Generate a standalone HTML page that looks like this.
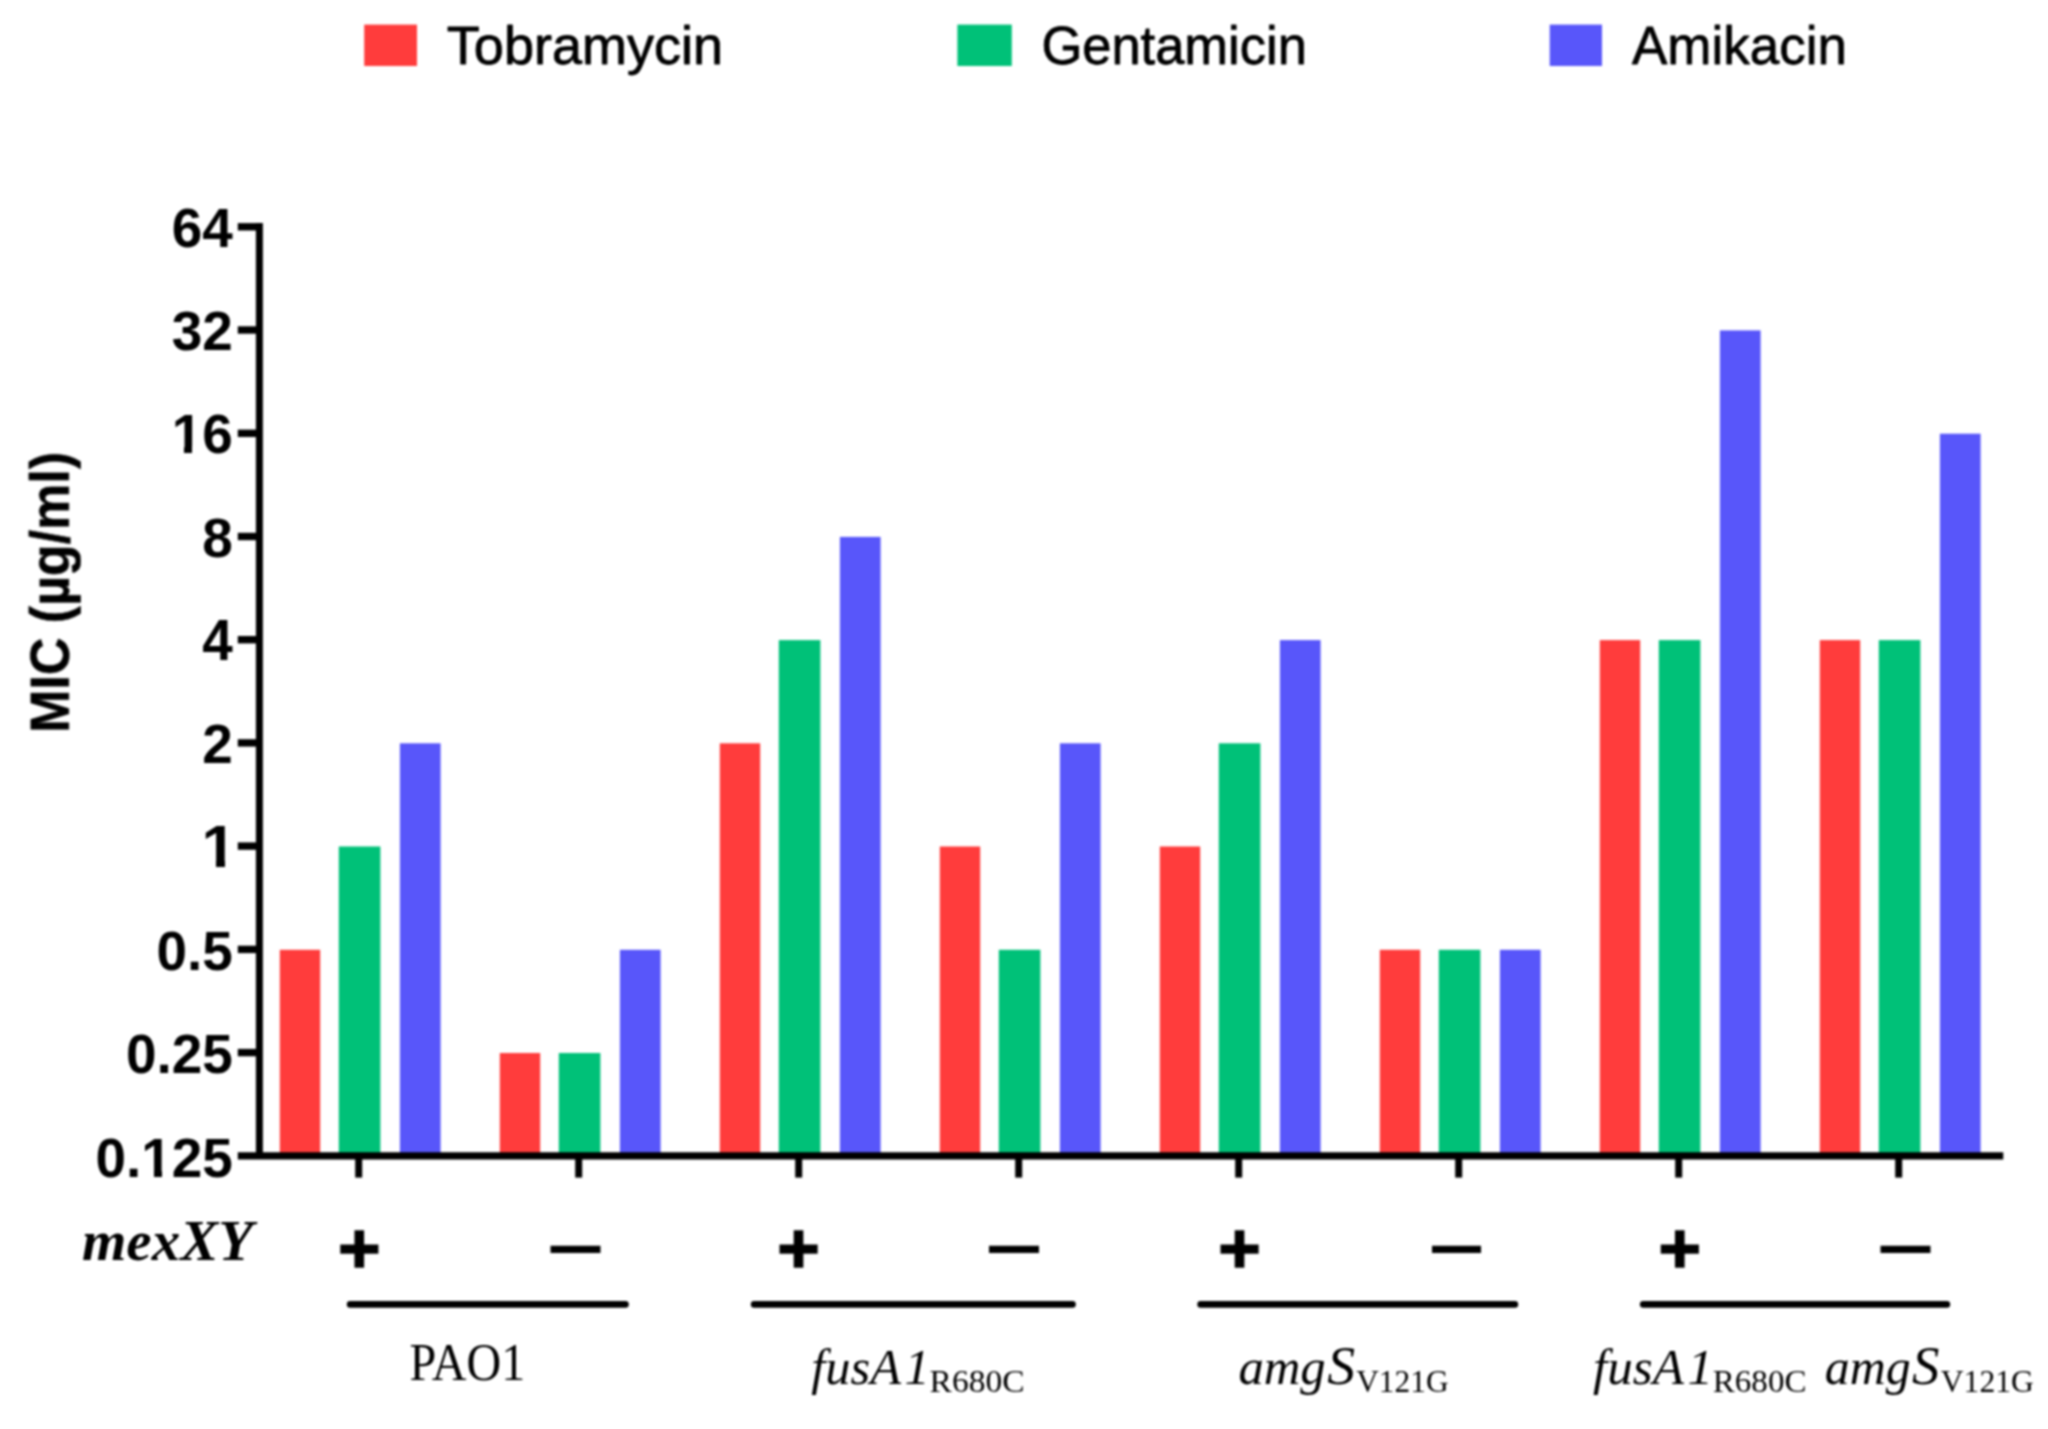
<!DOCTYPE html>
<html lang="en">
<head>
<meta charset="utf-8">
<title>MIC of aminoglycosides</title>
<style>
html,body{margin:0;padding:0;background:#fff;}
body{width:2048px;height:1429px;overflow:hidden;}
svg{display:block;}
.sb{font-family:"Liberation Sans", Arial, sans-serif;font-weight:700;}
.hv{stroke:#000;stroke-width:0.5px;stroke-linejoin:round;}
.pl{stroke:#000;stroke-width:1.6px;stroke-linejoin:miter;}
.sr{font-family:"Liberation Sans", Arial, sans-serif;font-weight:400;stroke:#000;stroke-width:0.8px;stroke-linejoin:round;}
.tr{font-family:"Liberation Serif", "Times New Roman", serif;font-weight:400;}
.ti{font-family:"Liberation Serif", "Times New Roman", serif;font-style:italic;}
.tbi{font-family:"Liberation Serif", "Times New Roman", serif;font-style:italic;font-weight:700;}
text{fill:#000;}
</style>
</head>
<body>
<svg width="2048" height="1429" viewBox="0 0 2048 1429">
<defs><filter id="soft" x="0" y="0" width="2048" height="1429" filterUnits="userSpaceOnUse" color-interpolation-filters="sRGB"><feGaussianBlur stdDeviation="0.8"/></filter></defs>
<rect width="2048" height="1429" fill="#fff"/>
<g id="chart" filter="url(#soft)">
<g id="legend">
<rect x="364.2" y="24.6" width="52.8" height="41.4" fill="#ff3c3c"/>
<rect x="957.4" y="24.6" width="54.4" height="41.4" fill="#00c178"/>
<rect x="1549.7" y="24.6" width="52.3" height="41.4" fill="#5856fa"/>
</g>
<g id="bars">
<rect x="279.8" y="949.8" width="40.4" height="206.0" fill="#ff3c3c"/>
<rect x="338.8" y="846.5" width="41.6" height="309.3" fill="#00c178"/>
<rect x="399.9" y="743.3" width="40.7" height="412.5" fill="#5856fa"/>
<rect x="499.8" y="1053.0" width="40.4" height="102.8" fill="#ff3c3c"/>
<rect x="558.8" y="1053.0" width="41.6" height="102.8" fill="#00c178"/>
<rect x="619.9" y="949.8" width="40.7" height="206.0" fill="#5856fa"/>
<rect x="719.8" y="743.3" width="40.4" height="412.5" fill="#ff3c3c"/>
<rect x="778.8" y="640.1" width="41.6" height="515.7" fill="#00c178"/>
<rect x="839.9" y="536.9" width="40.7" height="618.9" fill="#5856fa"/>
<rect x="939.8" y="846.5" width="40.4" height="309.3" fill="#ff3c3c"/>
<rect x="998.8" y="949.8" width="41.6" height="206.0" fill="#00c178"/>
<rect x="1059.9" y="743.3" width="40.7" height="412.5" fill="#5856fa"/>
<rect x="1159.8" y="846.5" width="40.4" height="309.3" fill="#ff3c3c"/>
<rect x="1218.8" y="743.3" width="41.6" height="412.5" fill="#00c178"/>
<rect x="1279.9" y="640.1" width="40.7" height="515.7" fill="#5856fa"/>
<rect x="1379.8" y="949.8" width="40.4" height="206.0" fill="#ff3c3c"/>
<rect x="1438.8" y="949.8" width="41.6" height="206.0" fill="#00c178"/>
<rect x="1499.9" y="949.8" width="40.7" height="206.0" fill="#5856fa"/>
<rect x="1599.8" y="640.1" width="40.4" height="515.7" fill="#ff3c3c"/>
<rect x="1658.8" y="640.1" width="41.6" height="515.7" fill="#00c178"/>
<rect x="1719.9" y="330.4" width="40.7" height="825.4" fill="#5856fa"/>
<rect x="1819.8" y="640.1" width="40.4" height="515.7" fill="#ff3c3c"/>
<rect x="1878.8" y="640.1" width="41.6" height="515.7" fill="#00c178"/>
<rect x="1939.9" y="433.7" width="40.7" height="722.1" fill="#5856fa"/>
</g>
<g id="axes" stroke="#000" stroke-width="7" fill="none">
<path d="M259.4 223.1V1155.8"/>
<path d="M237.8 1155.8H2003.3" stroke-width="7.2"/>
<path d="M237.8 1052.6H259.4" stroke-width="7.4"/>
<path d="M237.8 949.4H259.4" stroke-width="7.4"/>
<path d="M237.8 846.1H259.4" stroke-width="7.4"/>
<path d="M237.8 742.9H259.4" stroke-width="7.4"/>
<path d="M237.8 639.7H259.4" stroke-width="7.4"/>
<path d="M237.8 536.5H259.4" stroke-width="7.4"/>
<path d="M237.8 433.3H259.4" stroke-width="7.4"/>
<path d="M237.8 330.0H259.4" stroke-width="7.4"/>
<path d="M237.8 226.8H259.4" stroke-width="7.4"/>
<path d="M358.7 1155.8V1177.6"/>
<path d="M578.7 1155.8V1177.6"/>
<path d="M798.7 1155.8V1177.6"/>
<path d="M1018.7 1155.8V1177.6"/>
<path d="M1238.7 1155.8V1177.6"/>
<path d="M1458.7 1155.8V1177.6"/>
<path d="M1678.7 1155.8V1177.6"/>
<path d="M1898.7 1155.8V1177.6"/>
</g>
<g id="groups" stroke="#000" stroke-width="6.6" stroke-linecap="round">
<path d="M350.1 1304.4H625.5"/>
<path d="M754.1 1304.4H1072.5"/>
<path d="M1200.6 1304.4H1514.9"/>
<path d="M1643.2 1304.4H1946.9"/>
</g>
<g id="labels">
<text class="sr" font-size="54.50" transform="translate(446.80 64.00) scale(0.9918 1.0000)">Tobramycin</text>
<text class="sr" font-size="54.50" transform="translate(1041.40 64.00) scale(0.9630 1.0000)">Gentamicin</text>
<text class="sr" font-size="54.50" transform="translate(1632.00 64.00) scale(0.9720 1.0000)">Amikacin</text>
<clipPath id="cp-yt0"><path clip-rule="evenodd" d="M0 0H2048V1429H0Z M142.0 1170.2H154.0V1178.5H142.0Z M162.0 1170.2H173.0V1178.5H162.0Z"/></clipPath><g clip-path="url(#cp-yt0)"><text class="sb" font-size="56.00" transform="translate(232.80 1176.50) scale(0.9800 1.0000)" text-anchor="end">0.125</text></g>
<text class="sb" font-size="56.00" transform="translate(232.80 1073.20) scale(0.9800 1.0000)" text-anchor="end">0.25</text>
<text class="sb" font-size="56.00" transform="translate(232.80 969.90) scale(0.9800 1.0000)" text-anchor="end">0.5</text>
<clipPath id="cp-yt3"><path clip-rule="evenodd" d="M0 0H2048V1429H0Z M203.0 860.2H216.0V868.5H203.0Z M225.0 860.2H237.0V868.5H225.0Z"/></clipPath><g clip-path="url(#cp-yt3)"><text class="sb" font-size="56.00" transform="translate(236.30 866.60) scale(1.1200 1.0450)" text-anchor="end">1</text></g>
<text class="sb" font-size="56.00" transform="translate(232.80 763.30) scale(0.9800 1.0000)" text-anchor="end">2</text>
<text class="sb" font-size="56.00" transform="translate(232.80 660.00) scale(0.9800 1.0400)" text-anchor="end">4</text>
<text class="sb" font-size="56.00" transform="translate(232.80 556.70) scale(0.9800 1.0000)" text-anchor="end">8</text>
<clipPath id="cp-yt7"><path clip-rule="evenodd" d="M0 0H2048V1429H0Z M173.0 446.2H184.0V454.5H173.0Z M192.0 446.2H203.0V454.5H192.0Z"/></clipPath><g clip-path="url(#cp-yt7)"><text class="sb" font-size="56.00" transform="translate(232.80 453.40) scale(0.9800 1.0000)" text-anchor="end">16</text></g>
<text class="sb" font-size="56.00" transform="translate(232.80 350.10) scale(0.9800 1.0000)" text-anchor="end">32</text>
<text class="sb" font-size="56.00" transform="translate(232.80 246.80) scale(0.9800 1.0000)" text-anchor="end">64</text>
<text class="sb hv" font-size="56.00" transform="translate(68.80 732.90) rotate(-90) scale(0.9281 1.0000)">MIC (µg/ml)</text>
<text class="tbi" font-size="57.00" transform="translate(82.00 1260.30)">mexXY</text>
<text class="sb pl" font-size="71.48" transform="translate(359.40 1273.10) scale(1.0200 0.9850)" text-anchor="middle">+</text>
<text class="sb pl" font-size="71.48" transform="translate(798.60 1273.10) scale(1.0200 0.9850)" text-anchor="middle">+</text>
<text class="sb pl" font-size="71.48" transform="translate(1239.60 1273.10) scale(1.0200 0.9850)" text-anchor="middle">+</text>
<text class="sb pl" font-size="71.48" transform="translate(1679.70 1273.10) scale(1.0200 0.9850)" text-anchor="middle">+</text>
<text class="sb" font-size="50.00" transform="translate(575.50 1268.60) scale(1.0000 1.4800)" text-anchor="middle">—</text>
<text class="sb" font-size="50.00" transform="translate(1014.00 1268.60) scale(1.0004 1.4800)" text-anchor="middle">—</text>
<text class="sb" font-size="50.00" transform="translate(1456.50 1268.60) scale(0.9808 1.4800)" text-anchor="middle">—</text>
<text class="sb" font-size="50.00" transform="translate(1905.50 1268.60) scale(1.0008 1.4800)" text-anchor="middle">—</text>
<text class="tr" font-size="53.50" transform="translate(409.40 1380.00) scale(0.8993 1.0000)">PAO1</text>
<text class="ti" font-size="50.00" transform="translate(811.20 1383.50) scale(1.0100 1.0000)">fusA<tspan dx="3.5">1</tspan></text>
<text class="tr" font-size="32.50" transform="translate(929.60 1391.70) scale(1.0315 1.0000)">R680C</text>
<text class="ti" font-size="50.00" transform="translate(1238.40 1383.50) scale(1.0140 1.0000)">amg<tspan font-size="55" dx="1.5">S</tspan></text>
<text class="tr" font-size="32.50" transform="translate(1356.20 1391.70) scale(0.9660 1.0000)">V121G</text>
<text class="ti" font-size="50.00" transform="translate(1593.00 1383.60) scale(1.0226 1.0000)">fusA<tspan dx="3.5">1</tspan></text>
<text class="tr" font-size="32.50" transform="translate(1712.80 1391.50) scale(1.0169 1.0000)">R680C</text>
<text class="ti" font-size="50.00" transform="translate(1824.80 1383.60) scale(0.9963 1.0000)">amg<tspan font-size="55" dx="1.5">S</tspan></text>
<text class="tr" font-size="32.50" transform="translate(1940.80 1391.50) scale(0.9725 1.0000)">V121G</text>
</g>
</g>
</svg>
</body>
</html>
